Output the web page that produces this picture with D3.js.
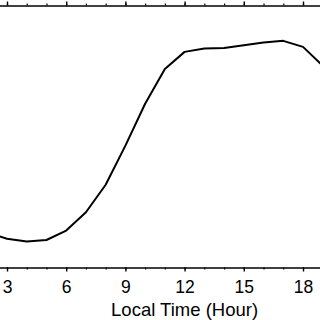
<!DOCTYPE html>
<html>
<head>
<meta charset="utf-8">
<script src="https://cdn.jsdelivr.net/npm/d3@7"></script>
<style>
  html, body { margin: 0; padding: 0; background: #fff; }
  svg { display: block; }
</style>
</head>
<body>
<svg id="chart" width="320" height="320"></svg>
<script>
// local time (hour) and the curve value
var hours = [2, 3, 4, 5, 6, 7, 8, 9, 10, 11, 12, 13, 14, 15, 16, 17, 18, 19];
var values = [1.33, 1.10, 0.99, 1.05, 1.41, 2.11, 3.16, 4.65, 6.25, 7.58, 8.23, 8.36, 8.38, 8.48, 8.59, 8.65, 8.42, 7.70];
var majorTicks = [3, 6, 9, 12, 15, 18];
var minorTicks = d3.range(0, 25, 1);

var svg = d3.select("#chart");
var font = "'Liberation Sans', Arial, Helvetica, sans-serif";

// the original frame is wider than the crop: 0..24 h
var x = d3.scaleLinear().domain([0, 24]).range([-52.2, 421.4]);
var y = d3.scaleLinear().domain([0, 10]).range([267.5, 5.5]);

// bottom axis, major ticks with labels
var bottomAxis = svg.append("g")
    .attr("transform", "translate(0," + y(0) + ")")
    .call(d3.axisBottom(x)
        .tickValues(majorTicks)
        .tickFormat(d3.format("d"))
        .tickSize(4)
        .tickSizeOuter(0)
        .tickPadding(9));
bottomAxis.select(".domain").attr("stroke-width", 1.6);
bottomAxis.selectAll(".tick line").attr("stroke-width", 1.4);
bottomAxis.selectAll(".tick text")
    .attr("font-family", font)
    .attr("font-size", "17.5px")
    .attr("fill", "#000");

// minor ticks every hour
var bottomMinor = svg.append("g")
    .attr("transform", "translate(0," + y(0) + ")")
    .call(d3.axisBottom(x).tickValues(minorTicks).tickFormat("").tickSize(2).tickSizeOuter(0));
bottomMinor.select(".domain").remove();
bottomMinor.selectAll(".tick line").attr("stroke-width", 1.2);

// top axis, no labels
var topAxis = svg.append("g")
    .attr("transform", "translate(0," + y(10) + ")")
    .call(d3.axisTop(x).tickValues(majorTicks).tickFormat("").tickSize(4).tickSizeOuter(0));
topAxis.select(".domain").attr("stroke-width", 1.6);
topAxis.selectAll(".tick line").attr("stroke-width", 1.4);

var topMinor = svg.append("g")
    .attr("transform", "translate(0," + y(10) + ")")
    .call(d3.axisTop(x).tickValues(minorTicks).tickFormat("").tickSize(2).tickSizeOuter(0));
topMinor.select(".domain").remove();
topMinor.selectAll(".tick line").attr("stroke-width", 1.2);

// x label
svg.append("text")
    .attr("x", x(12))
    .attr("y", 316)
    .attr("text-anchor", "middle")
    .attr("font-family", font)
    .attr("font-size", "18.5px")
    .attr("fill", "#000")
    .text("Local Time (Hour)");

// curve
var line = d3.line()
    .x(function(d, i) { return x(hours[i]); })
    .y(function(d) { return y(d); });

svg.append("path")
    .datum(values)
    .attr("d", line)
    .attr("fill", "none")
    .attr("stroke", "#000")
    .attr("stroke-width", 2)
    .attr("stroke-linejoin", "round");
</script>
</body>
</html>
